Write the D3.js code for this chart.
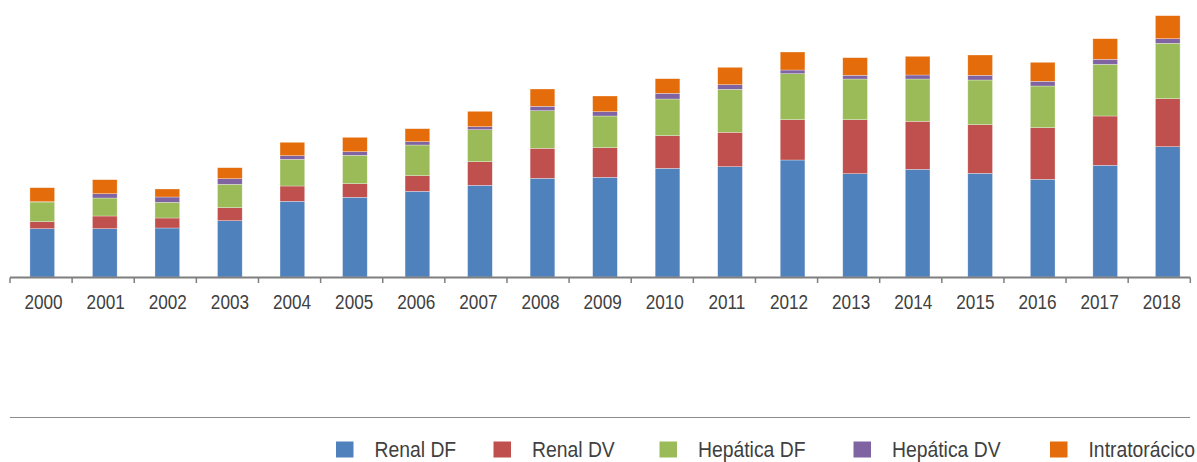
<!DOCTYPE html>
<html>
<head>
<meta charset="utf-8">
<script src="https://cdn.jsdelivr.net/npm/d3@7"></script>
<style>
  body { margin: 0; background: #fff; }
  text { font-family: "Liberation Sans", Arial, sans-serif; }
</style>
</head>
<body>
<script>
'use strict';

// years on the x axis
let years = ['2000', '2001', '2002', '2003', '2004', '2005', '2006', '2007', '2008', '2009',
  '2010', '2011', '2012', '2013', '2014', '2015', '2016', '2017', '2018'];

let seriesNames = ['Renal DF', 'Renal DV', 'Hepática DF', 'Hepática DV', 'Intratorácico'];

// values (no y axis in the original, so relative units)
let renalDF = [48.3, 48.3, 49, 56.3, 75.7, 79.7, 85.7, 91.7, 98.7, 99.7,
  108.7, 110.3, 117, 103.3, 107.7, 103.7, 97.7, 111.7, 130.3];
let renalDV = [7, 12.7, 10, 13, 15.3, 13.6, 15.6, 23.6, 30, 29.6,
  32.6, 34.4, 40.3, 54, 48, 48.6, 51.6, 49.3, 48];
let hepaticaDF = [19.7, 18, 15.7, 23.4, 26.7, 28.4, 30.7, 32, 37.6, 31.7,
  36.7, 43, 46, 40.7, 42.3, 44.7, 41.7, 51.7, 55.4];
let hepaticaDV = [0.3, 4.3, 5.3, 5.6, 3.6, 3.6, 3.3, 3, 4.4, 4.3,
  5.7, 4.6, 3.7, 3.7, 4, 4.7, 4.7, 5, 4.6];
let intratoracico = [14, 14, 8, 11, 13.4, 14.4, 13, 15.4, 17.3, 15.7,
  14.6, 17.4, 18, 17.6, 18.7, 20.3, 19, 20.6, 23];

let colors = ['#4f81bd', '#c0504d', '#9bbb59', '#8064a2', '#e46c0a'];

let width = 1197;
let height = 462;
let baseY = 277;

let table = years.map((y, i) => ({
  year: y,
  'Renal DF': renalDF[i],
  'Renal DV': renalDV[i],
  'Hepática DF': hepaticaDF[i],
  'Hepática DV': hepaticaDV[i],
  'Intratorácico': intratoracico[i]
}));

let stacked = d3.stack().keys(seriesNames)(table);

// the bars sit on a slightly wider grid than the ticks, as in the original
let xBars = d3.scaleBand()
    .domain(years)
    .range([11, 1199])
    .paddingInner(0.605)
    .paddingOuter(0.3025);

let xAxis = d3.scaleBand()
    .domain(years)
    .range([10, 1190.3]);

let y = d3.scaleLinear()
    .domain([0, baseY])
    .range([baseY, 0]);

let color = d3.scaleOrdinal()
    .domain(seriesNames)
    .range(colors);

let svg = d3.select('body').append('svg')
    .attr('width', width)
    .attr('height', height);

svg.append('g')
  .selectAll('g')
  .data(stacked)
  .enter().append('g')
    .attr('fill', function(d) { return color(d.key); })
  .selectAll('rect')
  .data(function(d) { return d; })
  .enter().append('rect')
    .attr('x', function(d) { return xBars(d.data.year); })
    .attr('y', function(d) { return y(d[1]); })
    .attr('width', xBars.bandwidth())
    .attr('height', function(d) { return y(d[0]) - y(d[1]); })
    .attr('stroke', '#fff')
    .attr('stroke-opacity', 0.5)
    .attr('stroke-width', 0.6);

// axis line and ticks at the band edges
let axisG = svg.append('g');

axisG.append('line')
    .attr('x1', xAxis.range()[0])
    .attr('x2', xAxis.range()[1])
    .attr('y1', baseY + 0.5)
    .attr('y2', baseY + 0.5)
    .attr('stroke', '#7f7f7f')
    .attr('stroke-width', 2);

let edges = years.map(d => xAxis(d)).concat([xAxis.range()[1]]);

axisG.selectAll('line.tick')
  .data(edges)
  .enter().append('line')
    .attr('class', 'tick')
    .attr('x1', d => d)
    .attr('x2', d => d)
    .attr('y1', baseY + 0.5)
    .attr('y2', baseY + 6)
    .attr('stroke', '#7f7f7f')
    .attr('stroke-width', 1.5);

axisG.selectAll('text')
  .data(years)
  .enter().append('text')
    .attr('transform', function(d) {
      return 'translate(' + (xAxis(d) + xAxis.bandwidth() / 2 + 2.5) + ',309) scale(0.88,1)';
    })
    .attr('text-anchor', 'middle')
    .attr('font-size', '19.5px')
    .attr('fill', '#404040')
    .text(d => d);

// legend
let legendX = [336, 493.5, 659.5, 853.5, 1050];

svg.append('line')
    .attr('x1', 10)
    .attr('x2', 1190)
    .attr('y1', 417.5)
    .attr('y2', 417.5)
    .attr('stroke', '#8c8c8c')
    .attr('stroke-width', 1.2);

let legend = svg.append('g')
  .selectAll('g')
  .data(seriesNames)
  .enter().append('g')
    .attr('transform', function(d, i) { return 'translate(' + legendX[i] + ',441.5)'; });

legend.append('rect')
    .attr('width', 17.5)
    .attr('height', 16)
    .attr('fill', d => color(d));

legend.append('text')
    .attr('transform', 'translate(38.5,15.8) scale(0.9,1)')
    .attr('font-size', '21.5px')
    .attr('fill', '#404040')
    .text(d => d);
</script>
</body>
</html>
